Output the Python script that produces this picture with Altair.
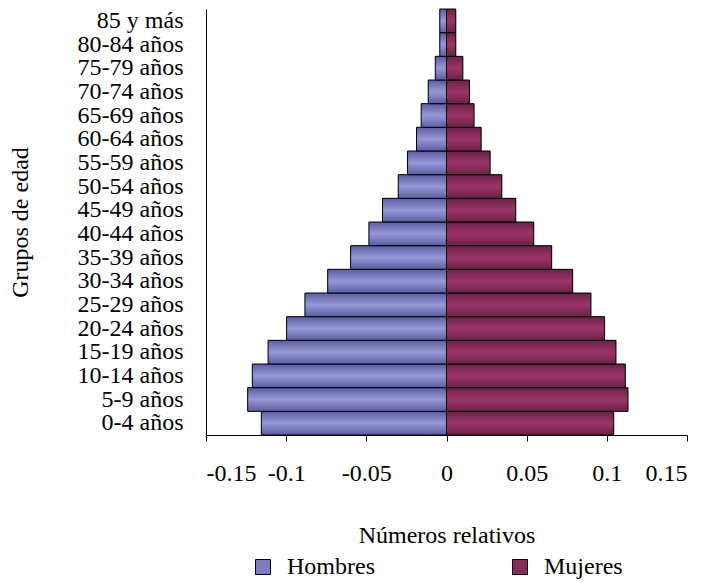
import altair as alt
import pandas as pd

# bottom -> top
grupos = ["0-4 años", "5-9 años", "10-14 años", "15-19 años", "20-24 años",
          "25-29 años", "30-34 años", "35-39 años", "40-44 años", "45-49 años",
          "50-54 años", "55-59 años", "60-64 años", "65-69 años", "70-74 años",
          "75-79 años", "80-84 años", "85 y más"]
hombres = [-0.1155, -0.1240, -0.1211, -0.1113, -0.0997, -0.0883, -0.0741, -0.0598,
           -0.0484, -0.0399, -0.0301, -0.0243, -0.0187, -0.0158, -0.0114, -0.0070,
           -0.0042, -0.0042]
mujeres = [0.1043, 0.1132, 0.1115, 0.1057, 0.0986, 0.0901, 0.0787, 0.0656,
           0.0544, 0.0432, 0.0345, 0.0272, 0.0216, 0.0172, 0.0143, 0.0102,
           0.0058, 0.0058]
x_ticks = [-0.15, -0.1, -0.05, 0, 0.05, 0.1, 0.15]

rows = []
for g, h, m in zip(grupos, hombres, mujeres):
    rows.append({"grupo": g, "sexo": "Hombres", "valor": h})
    rows.append({"grupo": g, "sexo": "Mujeres", "valor": m})
df = pd.DataFrame(rows)

FONT = "Liberation Serif, Times New Roman, serif"
order = list(reversed(grupos))

x_enc = alt.X("valor:Q", scale=alt.Scale(domain=[-0.15, 0.15], nice=False),
              stack=None,
              axis=alt.Axis(values=x_ticks, labelExpr="toString(datum.value)",
                            title="Números relativos", grid=False,
                            tickSize=6, labelPadding=20, titlePadding=38))
y_enc = alt.Y("grupo:N", sort=order,
              scale=alt.Scale(paddingInner=0, paddingOuter=0),
              axis=alt.Axis(title="Grupos de edad", ticks=False, labelPadding=23,
                            titlePadding=45, grid=False))

base = alt.Chart(df).mark_bar(strokeWidth=0).encode(
    x=x_enc, y=y_enc,
    color=alt.Color("sexo:N",
                    scale=alt.Scale(domain=["Hombres", "Mujeres"],
                                    range=["#7c7cc0", "#872b5a"]),
                    legend=alt.Legend(title=None, orient="none", legendX=45, legendY=546,
                                      direction="horizontal", columns=2,
                                      columnPadding=133, symbolType="square",
                                      symbolSize=225, symbolStrokeColor="black",
                                      symbolStrokeWidth=1, labelOffset=12,
                                      labelFontSize=24, labelFont=FONT,
                                      labelColor="black", padding=0)),
)

def grad(c_edge, c_mid):
    return alt.Gradient(gradient="linear", x1=0, x2=0, y1=0, y2=1,
                        stops=[alt.GradientStop(color=c_edge, offset=0),
                               alt.GradientStop(color=c_mid, offset=0.5),
                               alt.GradientStop(color=c_edge, offset=1)])

hom = alt.Chart(df).transform_filter(alt.datum.sexo == "Hombres").mark_bar(
    fill=grad("#5c5ca4", "#9898d6"), stroke="black", strokeWidth=1
).encode(x=x_enc, y=y_enc)

muj = alt.Chart(df).transform_filter(alt.datum.sexo == "Mujeres").mark_bar(
    fill=grad("#6a2246", "#9d3569"), stroke="black", strokeWidth=1
).encode(x=x_enc, y=y_enc)

chart = alt.layer(base, hom, muj).properties(
    width=481, height=426,
    padding={"left": 0, "top": 0, "right": 5, "bottom": 0},
).configure_view(stroke=None).configure_axis(
    labelFont=FONT, titleFont=FONT, labelFontSize=24, titleFontSize=24,
    titleFontWeight="normal", labelColor="black", titleColor="black",
    domainColor="black", tickColor="black", domainWidth=1,
)

chart.save("out.html", embed_options={"renderer": "svg", "actions": False})
